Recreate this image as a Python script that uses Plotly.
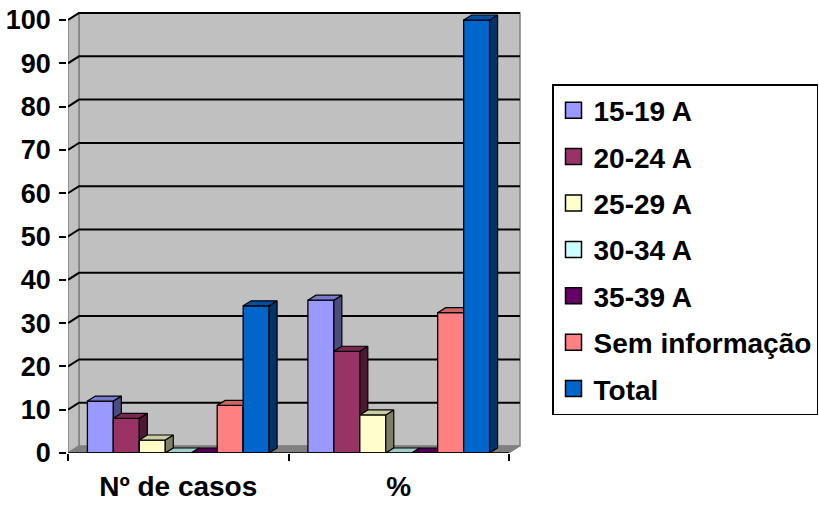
import plotly.graph_objects as go

# ---------------- data ----------------
categories = ["Nº de casos", "%"]
series_names = ["15-19 A", "20-24 A", "25-29 A", "30-34 A", "35-39 A", "Sem informação", "Total"]
values_casos = [12, 8, 3, 0, 0, 11, 34]
values_pct = [35.3, 23.5, 8.8, 0, 0, 32.4, 100]
y_ticks = [0, 10, 20, 30, 40, 50, 60, 70, 80, 90, 100]

front_colors = ["#9999FF", "#993366", "#FFFFCC", "#CCFFFF", "#660066", "#FF8080", "#0066CC"]

# ---------------- geometry (pixels -> data units) ----------------
W, H = 819, 506
ML, MT, MB = 68, 12, 53
PLOT_R = 521
plot_w = PLOT_R - ML
plot_h = H - MT - MB
px_x = 220.5          # px per category unit
px_y = 4.33           # px per y unit
x_range = [-0.5, -0.5 + plot_w / px_x]
y_range = [0, plot_h / px_y]

dxw, dyw = 11 / px_x, 7 / px_y     # wall depth
dxb, dyb = 8 / px_x, 5 / px_y      # bar depth
bargap = 0.176
n = len(series_names)
bw = (1 - bargap) / n


def shade(hexcol, f):
    h = hexcol.lstrip("#")
    r, g, b = (int(h[i:i + 2], 16) for i in (0, 2, 4))
    return "rgb(%d,%d,%d)" % (r * f, g * f, b * f)


fig = go.Figure()
xs_cat = list(range(len(categories)))

for j, name in enumerate(series_names):
    vals = [values_casos[j], values_pct[j]]
    fig.add_trace(go.Bar(
        x=xs_cat, y=vals, name=name, zorder=j, showlegend=False,
        marker=dict(color=front_colors[j], line=dict(color="black", width=1.3)),
    ))
    tx, ty, sx, sy = [], [], [], []
    for c, v in zip(xs_cat, vals):
        x0 = c - (1 - bargap) / 2 + j * bw
        x1 = x0 + bw
        tx += [x0, x0 + dxb, x1 + dxb, x1, x0, None]
        ty += [v, v + dyb, v + dyb, v, v, None]
        sx += [x1, x1 + dxb, x1 + dxb, x1, x1, None]
        sy += [0, dyb, v + dyb, v, 0, None]
    fig.add_trace(go.Scatter(x=sx, y=sy, mode="lines", fill="toself",
                             fillcolor=shade(front_colors[j], 0.5),
                             line=dict(color="black", width=1.2),
                             showlegend=False, hoverinfo="skip", zorder=j))
    fig.add_trace(go.Scatter(x=tx, y=ty, mode="lines", fill="toself",
                             fillcolor=shade(front_colors[j], 0.8),
                             line=dict(color="black", width=1.2),
                             showlegend=False, hoverinfo="skip", zorder=j))
    # legend entry (square key)
    fig.add_trace(go.Scatter(x=[None], y=[None], mode="markers", name=name,
                             legendgroup=name,
                             marker=dict(symbol="square", size=16, color=front_colors[j],
                                         line=dict(color="black", width=1.5))))

shapes = []
top = max(y_ticks)
x_left, x_right = -0.5, len(categories) - 0.5
# back wall
shapes.append(dict(type="rect", xref="x", yref="y", layer="below",
                   x0=x_left + dxw, x1=x_right + dxw, y0=dyw, y1=top + dyw,
                   fillcolor="#C0C0C0", line=dict(color="#808080", width=1.5)))
# side wall
shapes.append(dict(type="path", xref="x", yref="y", layer="below",
                   path=f"M{x_left},0 L{x_left + dxw},{dyw} L{x_left + dxw},{top + dyw} L{x_left},{top} Z",
                   fillcolor="#C0C0C0", line=dict(color="#808080", width=1.5)))
# floor
shapes.append(dict(type="path", xref="x", yref="y", layer="below",
                   path=f"M{x_left},0 L{x_right},0 L{x_right + dxw},{dyw} L{x_left + dxw},{dyw} Z",
                   fillcolor="#808080", line=dict(color="#808080", width=1)))
# gridlines
for v in y_ticks[1:]:
    shapes.append(dict(type="path", xref="x", yref="y", layer="below",
                       path=f"M{x_left},{v} L{x_left + dxw},{v + dyw} L{x_right + dxw},{v + dyw}",
                       line=dict(color="black", width=2)))
# x axis line
shapes.append(dict(type="line", xref="x", yref="y", layer="above",
                   x0=x_left, x1=x_right, y0=0, y1=0, line=dict(color="black", width=1.5)))

fig.update_layout(
    width=W, height=H,
    margin=dict(l=ML, r=W - PLOT_R, t=MT, b=MB, autoexpand=False),
    paper_bgcolor="white", plot_bgcolor="white",
    barmode="group", bargap=bargap, bargroupgap=0,
    shapes=shapes,
    font=dict(family="Liberation Sans, Arial", color="black", size=27, weight="bold"),
    showlegend=True,
    legend=dict(
        x=(552 - ML) / plot_w, y=(H - MB - 84) / plot_h, xanchor="left", yanchor="top",
        bordercolor="black", borderwidth=1.5, bgcolor="white",
        font=dict(size=28, family="Liberation Sans, Arial", weight="bold"),
        traceorder="grouped", tracegroupgap=7, itemsizing="trace",
    ),
    xaxis=dict(range=x_range, tickvals=xs_cat, ticktext=categories, ticks="",
               showline=False, showgrid=False, zeroline=False, ticklabelstandoff=14,
               tickfont=dict(size=28), automargin=False,
               minor=dict(tickvals=[-0.5, 0.5, 1.5], ticks="outside", ticklen=7,
                          tickcolor="black", tickwidth=1.5, showgrid=False),
               fixedrange=True),
    yaxis=dict(range=y_range, tickvals=y_ticks, ticks="outside", ticklen=7,
               tickcolor="black", tickwidth=1.5, showline=True, linecolor="black",
               linewidth=1.5, showgrid=False, zeroline=False, ticklabelstandoff=3,
               automargin=False, fixedrange=True),
)

fig.write_html("out.html")
